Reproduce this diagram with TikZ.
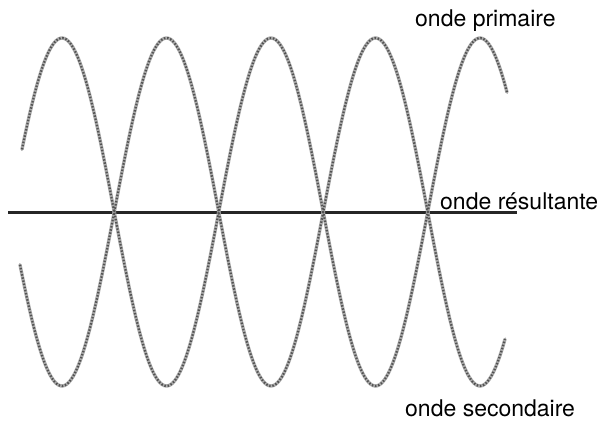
\documentclass[tikz,border=0pt]{standalone}
\usepackage{fontspec}
\setmainfont{TeX Gyre Heros}
\tikzset{
  wavebase/.style={line width=3.4pt, color=black!32, line cap=round, line join=round},
  wavedots/.style={line width=2.2pt, color=black!68, dash pattern=on 1.5pt off 1.7pt},
  axisline/.style={line width=3pt, color=black!85},
  lbl/.style={font=\fontsize{23}{27}\selectfont, inner sep=0pt, anchor=base west}
}
\begin{document}
\begin{tikzpicture}[x=1pt,y=-1pt]
\useasboundingbox (0,0) rectangle (605,422);
% resultant line
\coordinate (L) at (8,213);
\coordinate (R) at (517,213);
\draw[axisline] (L) -- (R);
% primary and secondary waves
\foreach \s in {wavebase,wavedots}{
  \draw[\s] plot[domain=22:507, samples=240, smooth] (\x,{212-174*cos(1.72249*(\x-62))});
  \draw[\s] plot[domain=20:505, samples=240, smooth] (\x,{212+174*cos(1.72249*(\x-62))});
}
% labels
\node[lbl] (prim) at (415,27) {onde primaire};
\node[lbl] (res) at (440,210) {onde résultante};
\node[lbl] (sec) at (405,416) {onde secondaire};
\end{tikzpicture}
\end{document}
